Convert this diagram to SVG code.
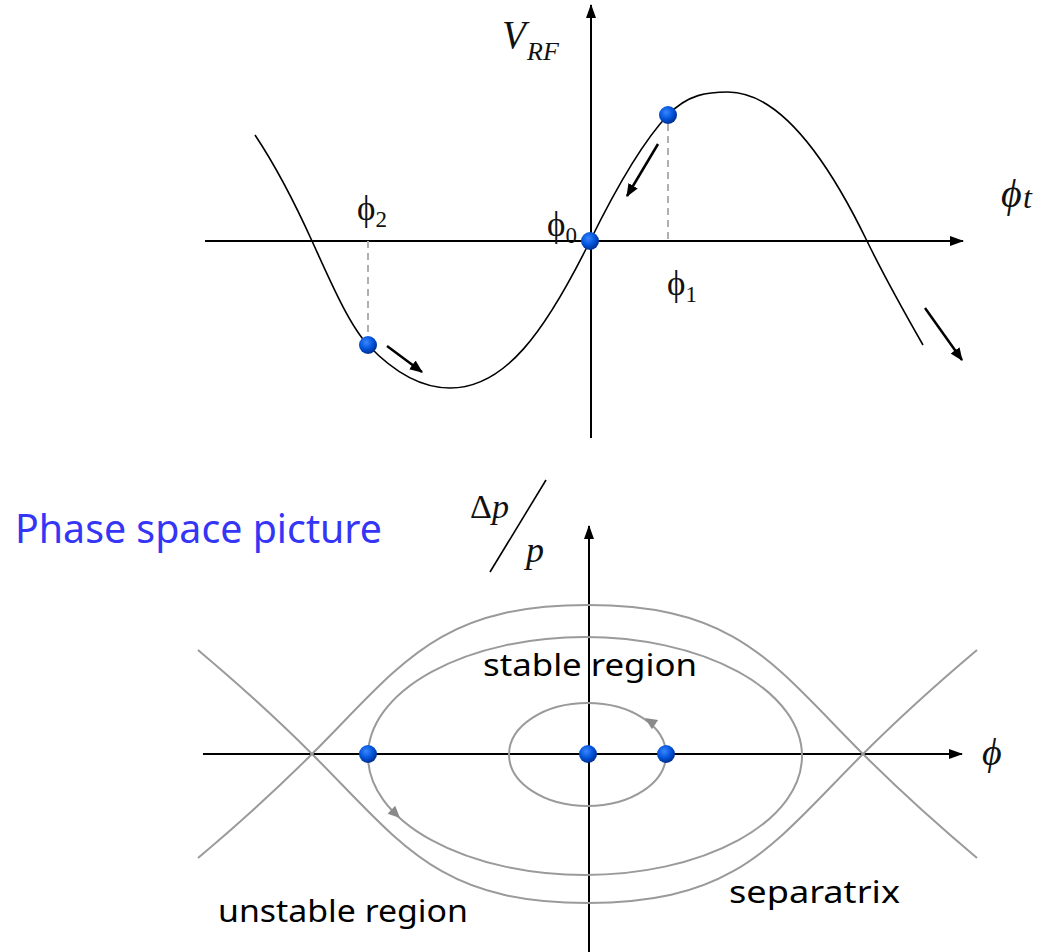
<svg xmlns="http://www.w3.org/2000/svg" width="1045" height="952" viewBox="0 0 1045 952">
<style>
.axis{stroke:#000;stroke-width:2;fill:none}
.curve{stroke:#000;stroke-width:1.6;fill:none}
.orbit{stroke:#9a9a9a;stroke-width:2;fill:none}
.dash{stroke:#b0b0b0;stroke-width:2;stroke-dasharray:7 5;fill:none}
.arr{stroke:#000;stroke-width:2.5;fill:none}
.serif{font-family:"Liberation Serif","Times New Roman",serif;fill:#111}
.sans{font-family:"Noto Sans","DejaVu Sans",sans-serif;fill:#000}
</style>
<defs>
<marker id="axhead" viewBox="0 0 14 10" refX="13" refY="5" markerWidth="14" markerHeight="10" markerUnits="userSpaceOnUse" orient="auto">
<path d="M0,0 L14,5 L0,10 z" fill="#000"/>
</marker>
<marker id="arhead" viewBox="0 0 12 10" refX="11" refY="5" markerWidth="13" markerHeight="11" markerUnits="userSpaceOnUse" orient="auto">
<path d="M0,0 L12,5 L0,10 z" fill="#000"/>
</marker>
<radialGradient id="dotg" cx="40%" cy="35%" r="65%">
<stop offset="0" stop-color="#3a86ff"/>
<stop offset="0.6" stop-color="#0052d9"/>
<stop offset="1" stop-color="#002f8f"/>
</radialGradient>
</defs>

<g id="top-plot">
<g id="top-axes">
<line class="axis" x1="205" y1="241" x2="963" y2="241" marker-end="url(#axhead)"/>
<line class="axis" x1="591" y1="438" x2="591" y2="5" marker-end="url(#axhead)"/>
</g>
<g id="rf-curve">
<path class="curve" d="M255,135 C274,163.5 293,199 312,241 C330.7,282 349.3,325.4 368,345 C395.3,373.7 422.7,388 450,388 C505,388 545,332 590,241 C616,188.2 642,142.3 668,115 C688,94 708,92 728,92 C774.3,92 820.7,145.6 867,241 C885.7,279.5 904.3,312.3 923,345"/>
</g>
<g id="connectors-top">
<line class="dash" x1="368" y1="241" x2="368" y2="336"/>
<line class="dash" x1="668" y1="124" x2="668" y2="241"/>
<line class="arr" x1="387" y1="346" x2="422" y2="372" marker-end="url(#arhead)"/>
<line class="arr" x1="658" y1="144" x2="627" y2="196" marker-end="url(#arhead)"/>
<line class="arr" x1="925" y1="308" x2="962" y2="360" marker-end="url(#arhead)"/>
</g>
<g id="phi2-node"><circle cx="368" cy="345" r="9" fill="url(#dotg)"/></g>
<g id="phi0-node"><circle cx="590" cy="241" r="9" fill="url(#dotg)"/></g>
<g id="phi1-node"><circle cx="668" cy="115" r="9" fill="url(#dotg)"/></g>
<g id="top-labels">
<text class="serif" x="502" y="48" font-size="39" font-style="italic">V</text>
<text class="serif" x="527" y="60" font-size="26" font-style="italic">RF</text>
<text class="serif" x="1001" y="207" font-size="40" font-style="italic">ϕ</text>
<text class="serif" x="1023" y="208" font-size="32" font-style="italic">t</text>
<text class="serif" x="357" y="220" font-size="35">ϕ<tspan font-size="23" dy="7">2</tspan></text>
<text class="serif" x="547" y="236" font-size="35">ϕ<tspan font-size="23" dy="7">0</tspan></text>
<text class="serif" x="667" y="295" font-size="35">ϕ<tspan font-size="23" dy="7">1</tspan></text>
</g>
</g>

<g id="phase-plot">
<text class="sans" x="15" y="543" font-size="40" style="fill:#3535f5" textLength="367" lengthAdjust="spacingAndGlyphs">Phase space picture</text>
<g id="bottom-axes">
<line class="axis" x1="203" y1="754" x2="962" y2="754" marker-end="url(#axhead)"/>
<line class="axis" x1="589" y1="952" x2="589" y2="526" marker-end="url(#axhead)"/>
</g>
<g id="orbits">
<path class="orbit" d="M198,650 Q262,704 312,754 C402,844 437.5,903 587.5,903 C737.5,903 773,844 863,754 Q913,704 977,650"/>
<path class="orbit" d="M198,858 Q262,804 312,754 C402,664 437.5,605 587.5,605 C737.5,605 773,664 863,754 Q913,804 977,858"/>
<ellipse class="orbit" cx="585" cy="756" rx="217" ry="119"/>
<ellipse class="orbit" cx="587.5" cy="754.5" rx="78.5" ry="51.5"/>
<path d="M645,718 L658.1,720.1 L651.9,729.3 Z" fill="#8a8a8a"/>
<path d="M400,818 L395.2,805.7 L387.6,813.7 Z" fill="#8a8a8a"/>
</g>
<g id="left-node"><circle cx="368" cy="754" r="9" fill="url(#dotg)"/></g>
<g id="center-node"><circle cx="588" cy="754" r="9" fill="url(#dotg)"/></g>
<g id="right-node"><circle cx="666" cy="754" r="9" fill="url(#dotg)"/></g>
<g id="bottom-labels">
<text class="serif" x="470" y="518" font-size="34" font-style="italic"><tspan font-style="normal">Δ</tspan>p</text>
<line x1="490" y1="572" x2="546" y2="480" stroke="#000" stroke-width="1.6"/>
<text class="serif" x="526" y="562" font-size="36" font-style="italic">p</text>
<text class="serif" x="982" y="765" font-size="38" font-style="italic">ϕ</text>
<text class="sans" x="483" y="676" font-size="30" textLength="214" lengthAdjust="spacingAndGlyphs">stable region</text>
<text class="sans" x="218" y="922" font-size="30" textLength="250" lengthAdjust="spacingAndGlyphs">unstable region</text>
<text class="sans" x="729" y="903" font-size="30" textLength="171" lengthAdjust="spacingAndGlyphs">separatrix</text>
</g>
</g>
</svg>
